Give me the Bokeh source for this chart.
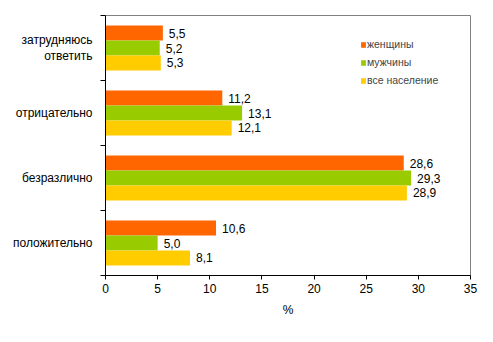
from bokeh.plotting import figure
from bokeh.models import ColumnDataSource, Range1d, FixedTicker, Legend, LegendItem
from bokeh.transform import dodge
from bokeh.core.properties import value
from bokeh.embed import file_html
from bokeh.resources import INLINE

# bottom to top
categories = ["положительно", "безразлично", "отрицательно", "затрудняюсь\nответить"]
women = [10.6, 28.6, 11.2, 5.5]
men = [5.0, 29.3, 13.1, 5.2]
total = [8.1, 28.9, 12.1, 5.3]
series_names = ["женщины", "мужчины", "все население"]
x_ticks = [0, 5, 10, 15, 20, 25, 30, 35]

colors = ["#FF6600", "#99CC00", "#FFCC00"]
FONT = "Liberation Sans"

def fmt(v):
    return f"{v:.1f}".replace(".", ",")

ypos = [i + 0.5 for i in range(len(categories))]
src = ColumnDataSource(dict(
    y=ypos,
    women=women, men=men, total=total,
    women_l=[fmt(v) for v in women],
    men_l=[fmt(v) for v in men],
    total_l=[fmt(v) for v in total],
))

p = figure(width=493, height=342, output_backend="svg", toolbar_location=None,
           x_range=Range1d(0, 35), y_range=Range1d(0, len(categories)),
           min_border_left=105, min_border_right=23, min_border_top=15, min_border_bottom=67)
p.grid.visible = False
p.outline_line_color = "#808080"
p.outline_line_width = 1
p.background_fill_color = "white"
p.border_fill_color = "white"

bh = 0.23
offsets = [bh, 0.0, -bh]
cols = ["women", "men", "total"]
renderers = []
for col, off, c in zip(cols, offsets, colors):
    r = p.hbar(y=dodge("y", off, range=p.y_range), right=col, left=0, height=bh,
               color=c, line_color=None, source=src)
    renderers.append(r)
    p.text(x=col, y=dodge("y", off, range=p.y_range), text=col + "_l", source=src,
           x_offset=6, text_font=value(FONT), text_font_size="12px",
           text_baseline="middle", text_align="left", text_color="black")

# x axis
xa = p.xaxis[0]
xa.ticker = FixedTicker(ticks=x_ticks)
xa.major_tick_out = 4
xa.major_tick_in = 0
xa.minor_tick_out = 0
xa.minor_tick_in = 0
xa.axis_line_color = "black"
xa.major_tick_line_color = "black"
xa.major_label_text_font = FONT
xa.major_label_text_font_size = "12px"
xa.major_label_text_color = "black"
xa.major_label_standoff = 4
xa.axis_label = "%"
xa.axis_label_text_font = FONT
xa.axis_label_text_font_size = "12px"
xa.axis_label_text_font_style = "normal"
xa.axis_label_text_color = "black"
xa.axis_label_standoff = 7

# y axis: labels at category centres, tick marks at boundaries
ya = p.yaxis[0]
ya.ticker = FixedTicker(ticks=ypos, minor_ticks=list(range(len(categories) + 1)))
ya.major_label_overrides = {y: c for y, c in zip(ypos, categories)}
ya.major_tick_out = 0
ya.major_tick_in = 0
ya.minor_tick_out = 5
ya.minor_tick_in = 0
ya.minor_tick_line_color = "black"
ya.axis_line_color = "black"
ya.major_label_text_font = FONT
ya.major_label_text_font_size = "12px"
ya.major_label_text_color = "black"
ya.major_label_standoff = 8

legend = Legend(items=[LegendItem(label=n, renderers=[r]) for n, r in zip(series_names, renderers)],
                location=(255, 189), orientation="vertical",
                glyph_width=6, glyph_height=7, label_height=7, label_standoff=1,
                spacing=6, padding=0, margin=0,
                label_text_font=FONT, label_text_font_size="10.5px",
                label_text_baseline="middle",
                border_line_color=None, background_fill_alpha=0)
p.add_layout(legend)

open("out.html", "w").write(file_html(p, INLINE))
